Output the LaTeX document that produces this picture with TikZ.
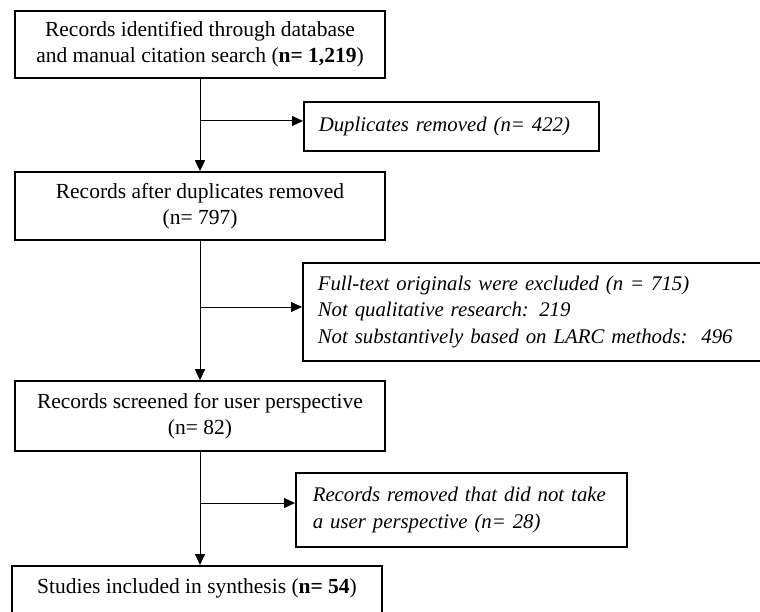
\documentclass[tikz,border=0pt]{standalone}
\usepackage{fontspec}
\setmainfont{Liberation Serif}
\usetikzlibrary{arrows.meta}
\begin{document}
\begin{tikzpicture}[x=1pt,y=1pt,
  mainbox/.style={draw, line width=1.6pt, minimum width=370pt, align=center, inner sep=0pt,
    font=\fontsize{21.5}{26}\selectfont},
  sidebox/.style={draw, line width=1.6pt, align=left, anchor=west, inner ysep=0pt,
    font=\fontsize{20.8}{26.5}\selectfont\itshape},
  conn/.style={line width=1pt, -{Triangle[length=11pt,width=10pt]}}]
\useasboundingbox (0,0) rectangle (760,-612);
\fill[white] (0,0) rectangle (760,-612);
\clip (0,0) rectangle (760,-612);

\node[mainbox, minimum height=67pt] (b1) at (200,-44.5)
  {Records identified through database\\and manual citation search (\textbf{n= 1,219})};
\node[mainbox, minimum height=68pt] (b2) at (200,-206)
  {Records after duplicates removed\\(n= 797)};
\node[mainbox, minimum height=70pt] (b3) at (200,-416)
  {Records screened for user perspective\\(n= 82)};
\node[mainbox, anchor=north, text height=28pt, text depth=32pt] (b4) at (197,-565)
  {Studies included in synthesis (\textbf{n= 54})};

\node[sidebox, text width=265pt, inner xsep=15pt, minimum height=49pt] (dup) at (303,-126.5)
  {Duplicates removed (n= 422)};
\node[sidebox, text width=432pt, inner xsep=15pt, minimum height=98pt] (ft) at (302,-312)
  {Full-text originals were excluded (n = 715)\\Not qualitative research: 219\\Not substantively based on LARC methods:\ \ 496};
\node[sidebox, text width=297pt, inner xsep=17pt, minimum height=74pt] (rr) at (295,-510)
  {Records removed that did not take\\a user perspective (n= 28)};

\coordinate (j1) at (b1.south |- 0,-121);
\coordinate (j2) at (b2.south |- 0,-307);
\coordinate (j3) at (b3.south |- 0,-503);

\draw[conn] (b1.south) -- (b2.north);
\draw[conn] (b2.south) -- (b3.north);
\draw[conn] (b3.south) -- (b4.north -| b3.south);
\draw[conn] (j1) -- (j1 -| dup.west);
\draw[conn] (j2) -- (j2 -| ft.west);
\draw[conn] (j3) -- (j3 -| rr.west);
\end{tikzpicture}
\end{document}
